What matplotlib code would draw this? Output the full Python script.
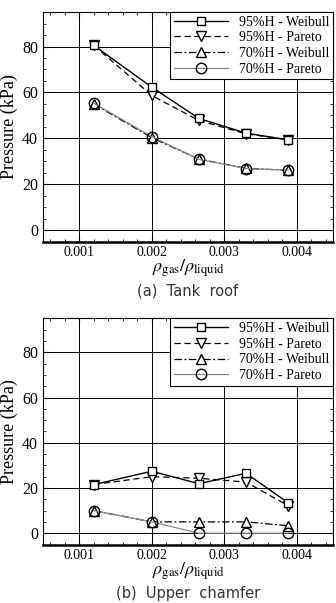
import matplotlib
matplotlib.use("Agg")
import matplotlib.pyplot as plt
from matplotlib.ticker import MultipleLocator

plt.rcParams['font.family'] = ['Liberation Serif', 'DejaVu Serif']
plt.rcParams['mathtext.fontset'] = 'stix'

# density ratio
ratio = [0.0012, 0.0020, 0.00265, 0.0033, 0.00388]

# (a) tank roof
roof_95_weibull = [80.5, 62.3, 48.7, 42.3, 39.4]
roof_95_pareto = [80.5, 58.7, 47.8, 42.0, 39.4]
roof_70_weibull = [55.0, 40.3, 31.0, 27.0, 26.1]
roof_70_pareto = [55.3, 40.8, 30.9, 26.9, 26.2]

# (b) upper chamfer
ch_95_weibull = [21.5, 27.4, 21.9, 26.5, 13.5]
ch_95_pareto = [21.5, 25.0, 24.3, 22.6, 12.2]
ch_70_weibull = [10.0, 5.0, 5.0, 5.0, 3.3]
ch_70_pareto = [10.0, 5.0, 0.0, 0.0, 0.0]

labels = ['95%H - Weibull', '95%H - Pareto', '70%H - Weibull', '70%H - Pareto']

fig = plt.figure(figsize=(3.36, 6.03), dpi=100)
ax1 = fig.add_axes([0.128, 0.599, 0.863, 0.381])
ax2 = fig.add_axes([0.128, 0.097, 0.863, 0.375])


def draw(ax, s1, s2, s3, s4, caption, cap_y):
    ax.plot(ratio, s1, color='black', lw=1.0, ls='-', marker='s', ms=5.5,
            mfc='white', mec='black', label=labels[0], zorder=5)
    ax.plot(ratio, s2, color='black', lw=0.9, ls=(0, (5, 3)), marker='v', ms=6.5,
            mfc='white', mec='black', label=labels[1], zorder=4)
    ax.plot(ratio, s3, color='black', lw=0.9, ls=(0, (6, 2, 1.5, 2)), marker='^', ms=6.5,
            mfc='white', mec='black', label=labels[2], zorder=3)
    ax.plot(ratio, s4, color='#888888', lw=0.9, ls='-', marker='o', ms=7.5,
            mfc='none', mec='black', label=labels[3], zorder=6)
    ax.set_xlim(0.0005, 0.0045)
    ax.set_ylim(-5, 95)
    ax.xaxis.set_minor_locator(MultipleLocator(0.0002))
    ax.yaxis.set_major_locator(MultipleLocator(20))
    ax.yaxis.set_minor_locator(MultipleLocator(5))
    ax.set_xticks([0.001, 0.002, 0.003, 0.004])
    ax.set_xticklabels(['0.001', '0.002', '0.003', '0.004'])
    ax.tick_params(which='both', direction='in', top=True, right=True, labelsize=10,
                   labelfontfamily='Liberation Serif')
    ax.tick_params(axis='y', labelsize=11.5)
    ax.tick_params(which='major', length=4)
    ax.tick_params(which='minor', length=2.5)
    ax.tick_params(axis='x', pad=3)
    ax.grid(True, which='major', color='black', lw=0.7)
    ax.set_axisbelow(True)
    ax.spines['bottom'].set_linewidth(1.8)
    ax.set_ylabel('Pressure (kPa)', fontsize=13, labelpad=3)
    ax.set_xlabel(r'$\rho_{\rm gas}/\rho_{\rm liquid}$', fontsize=13, labelpad=-1)
    leg = ax.legend(loc='upper right', fontsize=10, handlelength=3.9, borderaxespad=0,
                    frameon=True, fancybox=False, edgecolor='black', framealpha=1,
                    labelspacing=0.2, borderpad=0.25, handletextpad=0.8,
                    markerfirst=True, numpoints=1)
    leg.get_frame().set_linewidth(0.8)
    ax.text(0.5, cap_y, caption, transform=ax.transAxes, ha='center', va='center',
            fontsize=10.5, color='#333333', family=['DejaVu Sans'])


draw(ax1, roof_95_weibull, roof_95_pareto, roof_70_weibull, roof_70_pareto,
     '(a)  Tank  roof', -0.215)
draw(ax2, ch_95_weibull, ch_95_pareto, ch_70_weibull, ch_70_pareto,
     '(b)  Upper  chamfer', -0.215)

fig.savefig('out.png', dpi=100)
